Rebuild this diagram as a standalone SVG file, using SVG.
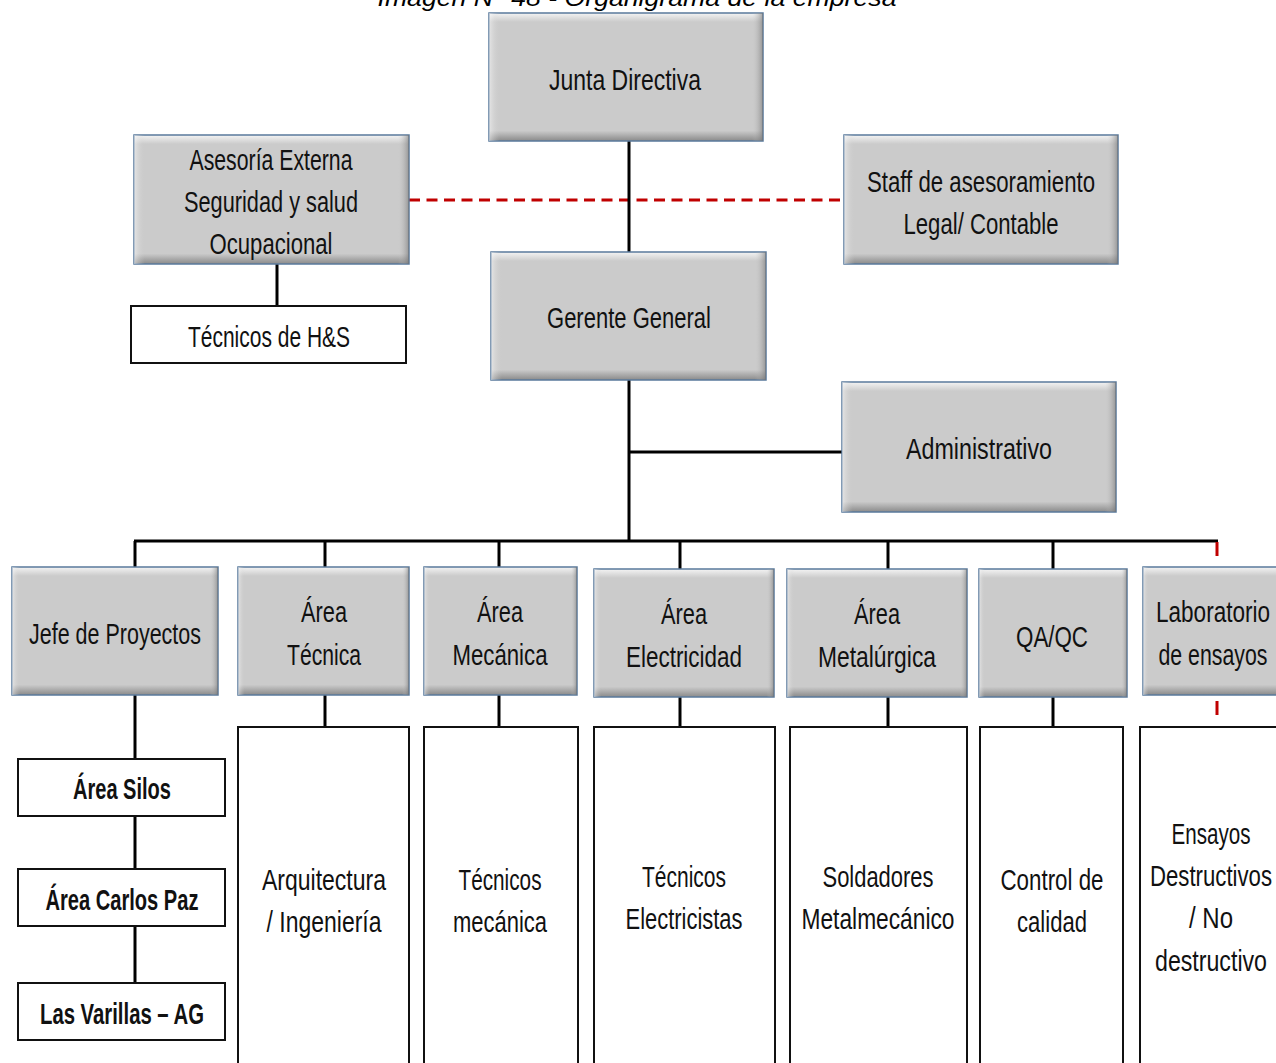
<svg xmlns="http://www.w3.org/2000/svg" width="1276" height="1063" viewBox="0 0 1276 1063">
<defs>
<linearGradient id="gv" x1="0" y1="0" x2="0" y2="1">
<stop offset="0" stop-color="#f4f4f4"/>
<stop offset="0.07" stop-color="#cbcbcb"/>
<stop offset="0.92" stop-color="#cbcbcb"/>
<stop offset="1" stop-color="#8a8a8a"/>
</linearGradient>
<linearGradient id="gh" x1="0" y1="0" x2="1" y2="0">
<stop offset="0" stop-color="#ffffff" stop-opacity="0.5"/>
<stop offset="0.04" stop-color="#cbcbcb" stop-opacity="0"/>
<stop offset="0.96" stop-color="#cbcbcb" stop-opacity="0"/>
<stop offset="1" stop-color="#6f6f6f" stop-opacity="0.6"/>
</linearGradient>
<style>
.g{fill:url(#gv);stroke:#5a7a9c;stroke-width:1.5}
.gh{fill:url(#gh);stroke:none}
.w{fill:#fff;stroke:#111;stroke-width:2}
.t{font-family:"Liberation Sans",Arial,sans-serif;font-size:30px;fill:#111;text-anchor:middle}
.b{font-weight:bold}
.c{stroke:#000;stroke-width:3;fill:none}
.r{stroke:#c00000;stroke-width:3;fill:none}
.d{stroke-dasharray:11 6.5}
.cap{font-family:"Liberation Sans",Arial,sans-serif;font-style:italic;font-size:23px;fill:#000;text-anchor:middle}
</style>
</defs>
<text class="cap" x="637" y="6" textLength="519" lengthAdjust="spacingAndGlyphs">Imagen N° 48 - Organigrama de la empresa</text>
<g id="connectors">
<line class="r d" x1="409" y1="200" x2="844" y2="200"/>
<line class="c" x1="629" y1="141" x2="629" y2="252"/>
<line class="c" x1="629" y1="380" x2="629" y2="541"/>
<line class="c" x1="629" y1="452" x2="842" y2="452"/>
<line class="c" x1="277" y1="264" x2="277" y2="306"/>
<line class="c" x1="134" y1="541" x2="1218" y2="541"/>
<line class="c" x1="135" y1="541" x2="135" y2="567"/>
<line class="c" x1="325" y1="541" x2="325" y2="567"/>
<line class="c" x1="499" y1="541" x2="499" y2="567"/>
<line class="c" x1="680" y1="541" x2="680" y2="569"/>
<line class="c" x1="888" y1="541" x2="888" y2="569"/>
<line class="c" x1="1053" y1="541" x2="1053" y2="569"/>
<line class="r" x1="1217" y1="542" x2="1217" y2="556"/>
<line class="r" x1="1217" y1="701" x2="1217" y2="715"/>
<line class="c" x1="135" y1="695" x2="135" y2="759"/>
<line class="c" x1="135" y1="816" x2="135" y2="869"/>
<line class="c" x1="135" y1="926" x2="135" y2="983"/>
<line class="c" x1="325" y1="695" x2="325" y2="727"/>
<line class="c" x1="499" y1="695" x2="499" y2="727"/>
<line class="c" x1="680" y1="697" x2="680" y2="727"/>
<line class="c" x1="888" y1="697" x2="888" y2="727"/>
<line class="c" x1="1053" y1="697" x2="1053" y2="727"/>
</g>
<g id="junta"><rect class="g" x="489" y="13" width="274" height="128"/><rect class="gh" x="489" y="13" width="274" height="128"/><text class="t" x="625" y="90" textLength="152" lengthAdjust="spacingAndGlyphs">Junta  Directiva</text></g>
<g id="asesoria"><rect class="g" x="134" y="135" width="275" height="129"/><rect class="gh" x="134" y="135" width="275" height="129"/><text class="t" x="271" y="170" textLength="163" lengthAdjust="spacingAndGlyphs">Asesoría Externa</text><text class="t" x="271" y="212" textLength="174" lengthAdjust="spacingAndGlyphs">Seguridad y salud</text><text class="t" x="271" y="254" textLength="123" lengthAdjust="spacingAndGlyphs">Ocupacional</text></g>
<g id="staff"><rect class="g" x="844" y="135" width="274" height="129"/><rect class="gh" x="844" y="135" width="274" height="129"/><text class="t" x="981" y="192" textLength="228" lengthAdjust="spacingAndGlyphs">Staff de asesoramiento</text><text class="t" x="981" y="234" textLength="155" lengthAdjust="spacingAndGlyphs">Legal/ Contable</text></g>
<g id="tecnicos-hs"><rect class="w" x="131" y="306" width="275" height="57"/><text class="t" x="269" y="347" textLength="162" lengthAdjust="spacingAndGlyphs">Técnicos de H&amp;S</text></g>
<g id="gerente"><rect class="g" x="491" y="252" width="275" height="128"/><rect class="gh" x="491" y="252" width="275" height="128"/><text class="t" x="629" y="328" textLength="164" lengthAdjust="spacingAndGlyphs">Gerente General</text></g>
<g id="administrativo"><rect class="g" x="842" y="382" width="274" height="130"/><rect class="gh" x="842" y="382" width="274" height="130"/><text class="t" x="979" y="459" textLength="146" lengthAdjust="spacingAndGlyphs">Administrativo</text></g>
<g id="jefe"><rect class="g" x="12" y="567" width="206" height="128"/><rect class="gh" x="12" y="567" width="206" height="128"/><text class="t" x="115" y="644" textLength="172" lengthAdjust="spacingAndGlyphs">Jefe de Proyectos</text></g>
<g id="area-tecnica"><rect class="g" x="238" y="567" width="171" height="128"/><rect class="gh" x="238" y="567" width="171" height="128"/><text class="t" x="324" y="622" textLength="46" lengthAdjust="spacingAndGlyphs">Área</text><text class="t" x="324" y="665" textLength="74" lengthAdjust="spacingAndGlyphs">Técnica</text></g>
<g id="area-mecanica"><rect class="g" x="424" y="567" width="153" height="128"/><rect class="gh" x="424" y="567" width="153" height="128"/><text class="t" x="500" y="622" textLength="46" lengthAdjust="spacingAndGlyphs">Área</text><text class="t" x="500" y="665" textLength="95" lengthAdjust="spacingAndGlyphs">Mecánica</text></g>
<g id="area-electricidad"><rect class="g" x="594" y="569" width="180" height="128"/><rect class="gh" x="594" y="569" width="180" height="128"/><text class="t" x="684" y="624" textLength="46" lengthAdjust="spacingAndGlyphs">Área</text><text class="t" x="684" y="667" textLength="116" lengthAdjust="spacingAndGlyphs">Electricidad</text></g>
<g id="area-metalurgica"><rect class="g" x="787" y="569" width="180" height="128"/><rect class="gh" x="787" y="569" width="180" height="128"/><text class="t" x="877" y="624" textLength="46" lengthAdjust="spacingAndGlyphs">Área</text><text class="t" x="877" y="667" textLength="118" lengthAdjust="spacingAndGlyphs">Metalúrgica</text></g>
<g id="qaqc"><rect class="g" x="979" y="569" width="148" height="128"/><rect class="gh" x="979" y="569" width="148" height="128"/><text class="t" x="1052" y="647" textLength="72" lengthAdjust="spacingAndGlyphs">QA/QC</text></g>
<g id="laboratorio"><rect class="g" x="1143" y="567" width="142" height="128"/><rect class="gh" x="1143" y="567" width="142" height="128"/><text class="t" x="1213" y="622" textLength="114" lengthAdjust="spacingAndGlyphs">Laboratorio</text><text class="t" x="1213" y="665" textLength="109" lengthAdjust="spacingAndGlyphs">de ensayos</text></g>
<g id="area-silos"><rect class="w" x="18" y="759" width="207" height="57"/><text class="t b" x="122" y="799" textLength="98" lengthAdjust="spacingAndGlyphs">Área Silos</text></g>
<g id="area-carlos-paz"><rect class="w" x="18" y="869" width="207" height="57"/><text class="t b" x="122" y="910" textLength="153" lengthAdjust="spacingAndGlyphs">Área Carlos Paz</text></g>
<g id="las-varillas"><rect class="w" x="18" y="983" width="207" height="57"/><text class="t b" x="122" y="1024" textLength="164" lengthAdjust="spacingAndGlyphs">Las Varillas – AG</text></g>
<g id="arquitectura"><rect class="w" x="238" y="727" width="171" height="350"/><text class="t" x="324" y="890" textLength="124" lengthAdjust="spacingAndGlyphs">Arquitectura</text><text class="t" x="324" y="932" textLength="115" lengthAdjust="spacingAndGlyphs">/ Ingeniería</text></g>
<g id="tecnicos-mecanica"><rect class="w" x="424" y="727" width="154" height="350"/><text class="t" x="500" y="890" textLength="83" lengthAdjust="spacingAndGlyphs">Técnicos</text><text class="t" x="500" y="932" textLength="94" lengthAdjust="spacingAndGlyphs">mecánica</text></g>
<g id="tecnicos-electricistas"><rect class="w" x="594" y="727" width="181" height="350"/><text class="t" x="684" y="887" textLength="84" lengthAdjust="spacingAndGlyphs">Técnicos</text><text class="t" x="684" y="929" textLength="117" lengthAdjust="spacingAndGlyphs">Electricistas</text></g>
<g id="soldadores"><rect class="w" x="790" y="727" width="177" height="350"/><text class="t" x="878" y="887" textLength="111" lengthAdjust="spacingAndGlyphs">Soldadores</text><text class="t" x="878" y="929" textLength="153" lengthAdjust="spacingAndGlyphs">Metalmecánico</text></g>
<g id="control-calidad"><rect class="w" x="980" y="727" width="143" height="350"/><text class="t" x="1052" y="890" textLength="103" lengthAdjust="spacingAndGlyphs">Control de</text><text class="t" x="1052" y="932" textLength="70" lengthAdjust="spacingAndGlyphs">calidad</text></g>
<g id="ensayos"><rect class="w" x="1140" y="727" width="145" height="350"/><text class="t" x="1211" y="844" textLength="79" lengthAdjust="spacingAndGlyphs">Ensayos</text><text class="t" x="1211" y="886" textLength="122" lengthAdjust="spacingAndGlyphs">Destructivos</text><text class="t" x="1211" y="928" textLength="44" lengthAdjust="spacingAndGlyphs">/ No</text><text class="t" x="1211" y="971" textLength="112" lengthAdjust="spacingAndGlyphs">destructivo</text></g>
</svg>
